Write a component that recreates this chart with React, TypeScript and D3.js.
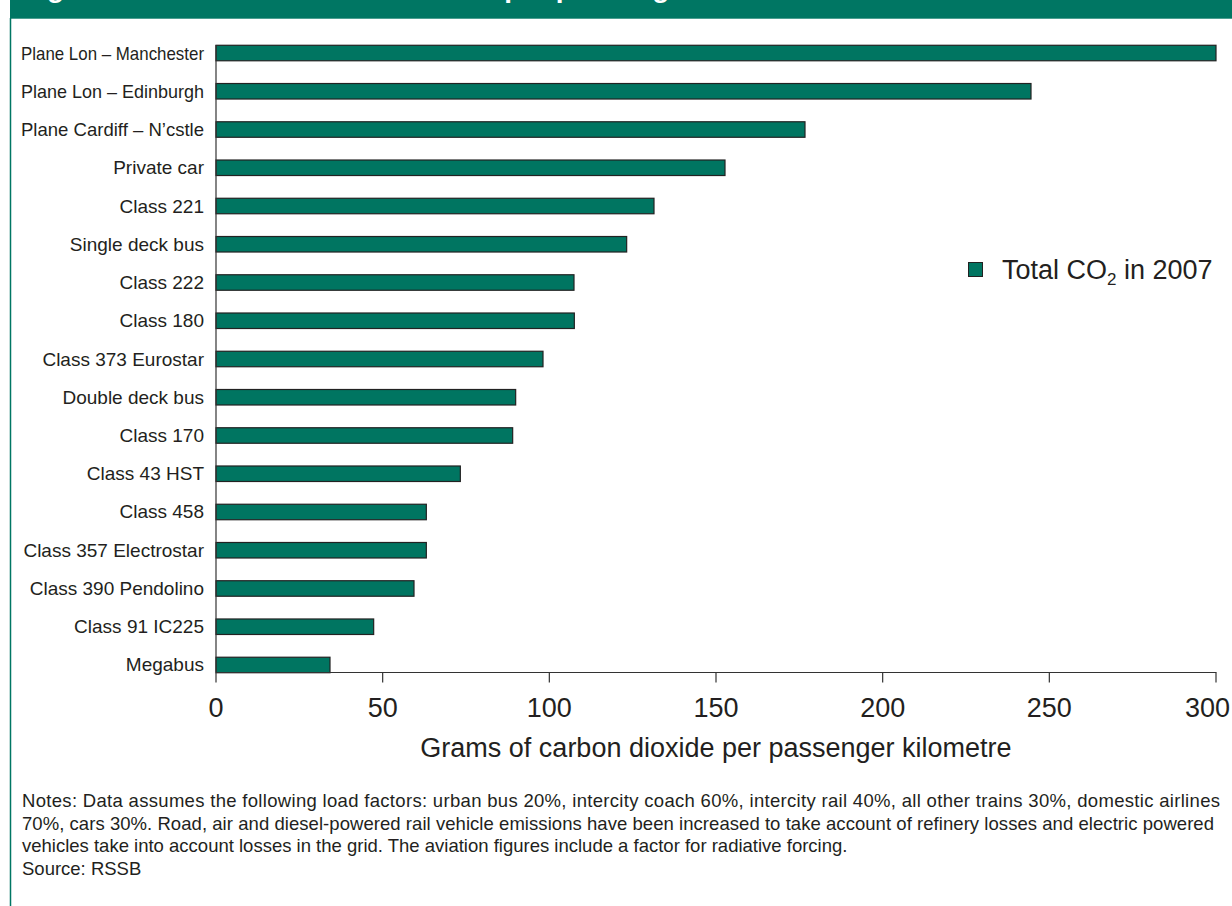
import React from "react";
import * as d3 from "d3";

const categories = [
  "Plane Lon – Manchester",
  "Plane Lon – Edinburgh",
  "Plane Cardiff – N’cstle",
  "Private car",
  "Class 221",
  "Single deck bus",
  "Class 222",
  "Class 180",
  "Class 373 Eurostar",
  "Double deck bus",
  "Class 170",
  "Class 43 HST",
  "Class 458",
  "Class 357 Electrostar",
  "Class 390 Pendolino",
  "Class 91 IC225",
  "Megabus",
];
const values = [300, 244.5, 176.7, 152.7, 131.4, 123.2, 107.4, 107.5, 98.1, 89.9, 89.0, 73.3, 63.1, 63.1, 59.4, 47.3, 34.2];
const xTicks = [0, 50, 100, 150, 200, 250, 300];
const seriesName = "Total CO";
const titleText = "Figure 4: Carbon dioxide emissions per passenger kilometre";
const axisTitle = "Grams of carbon dioxide per passenger kilometre";
const notes = [
  "Notes: Data assumes the following load factors: urban bus 20%, intercity coach 60%, intercity rail 40%, all other trains 30%, domestic airlines",
  "70%, cars 30%. Road, air and diesel-powered rail vehicle emissions have been increased to take account of refinery losses and electric powered",
  "vehicles take into account losses in the grid. The aviation figures include a factor for radiative forcing.",
  "Source: RSSB",
];
// justified widths of the wrapped note lines (last lines of paragraphs are not justified)
const noteJustify = [1198, 1192, 0, 0];

const W = 1232;
const H = 906;
const GREEN = "#007663";
const BAR = "#007561";
const TEXT = "#231f20";
const FONT = "'Liberation Sans', Arial, Helvetica, sans-serif";
const LABEL_SIZE = 19;
const LABEL_MAX = 183;

function measure(text: string, size: number): number {
  const c = document.createElement("canvas").getContext("2d");
  if (!c) return 0;
  c.font = `${size}px 'Liberation Sans', Arial, sans-serif`;
  return c.measureText(text).width;
}

export default function App() {
  const x = d3.scaleLinear().domain([0, 300]).range([216, 1216]);
  const y = d3.scalePoint<string>().domain(categories).range([33.9, 684.1]).padding(0.5);
  const barH = 15.5;
  const axisY = 672.5;

  return (
    <svg width={W} height={H} style={{ position: "absolute", left: 0, top: 0, background: "#fff" }} fontFamily={FONT}>
      {/* header band */}
      <rect x={10} y={0} width={W - 10} height={18.7} fill={GREEN} />
      <clipPath id="hdr">
        <rect x={10} y={0} width={W - 10} height={18.7} />
      </clipPath>
      <text x={22} y={-3} fontSize={28} fontWeight="bold" fill="#fff" clipPath="url(#hdr)">
        {titleText}
      </text>
      <line x1={10.5} x2={10.5} y1={18} y2={H} stroke={GREEN} strokeWidth={1.5} />

      {/* bars */}
      {categories.map((c, i) => (
        <rect
          key={c}
          x={x(0)}
          y={(y(c) as number) - barH / 2}
          width={x(values[i]) - x(0)}
          height={barH}
          fill={BAR}
          stroke="#222"
          strokeWidth={1.2}
        />
      ))}

      {/* category labels */}
      {categories.map((c) => {
        const w = measure(c, LABEL_SIZE);
        const squeeze = w > LABEL_MAX;
        return (
          <text
            key={c}
            x={204}
            y={(y(c) as number) + 6.5}
            textAnchor="end"
            fontSize={LABEL_SIZE}
            fill={TEXT}
            {...(squeeze ? { textLength: LABEL_MAX, lengthAdjust: "spacingAndGlyphs" } : {})}
          >
            {c}
          </text>
        );
      })}

      {/* axes */}
      <line x1={216} x2={216} y1={45} y2={axisY} stroke="#333" strokeWidth={1.2} />
      <line x1={216} x2={1216.5} y1={axisY} y2={axisY} stroke="#333" strokeWidth={1.2} />
      {xTicks.map((t, i) => {
        const last = i === xTicks.length - 1;
        return (
          <g key={t}>
            <line x1={x(t)} x2={x(t)} y1={axisY} y2={axisY + 10} stroke="#333" strokeWidth={1.2} />
            <text x={last ? 1230 : x(t)} y={717} textAnchor={last ? "end" : "middle"} fontSize={27} fill={TEXT}>
              {t}
            </text>
          </g>
        );
      })}
      <text x={716} y={757} textAnchor="middle" fontSize={27} fill={TEXT}>
        {axisTitle}
      </text>

      {/* legend */}
      <rect x={968.5} y={262.5} width={14} height={14} fill={BAR} stroke="#222" strokeWidth={1} />
      <text x={1002} y={279} fontSize={27} fill={TEXT}>
        {seriesName}
        <tspan fontSize={17} dy={6}>2</tspan>
        <tspan dy={-6}> in 2007</tspan>
      </text>

      {/* notes */}
      {notes.map((n, i) => (
        <text
          key={i}
          x={22}
          y={807 + i * 22.7}
          fontSize={18.5}
          fill={TEXT}
          {...(noteJustify[i] ? { textLength: noteJustify[i], lengthAdjust: "spacing" } : {})}
        >
          {n}
        </text>
      ))}
    </svg>
  );
}
